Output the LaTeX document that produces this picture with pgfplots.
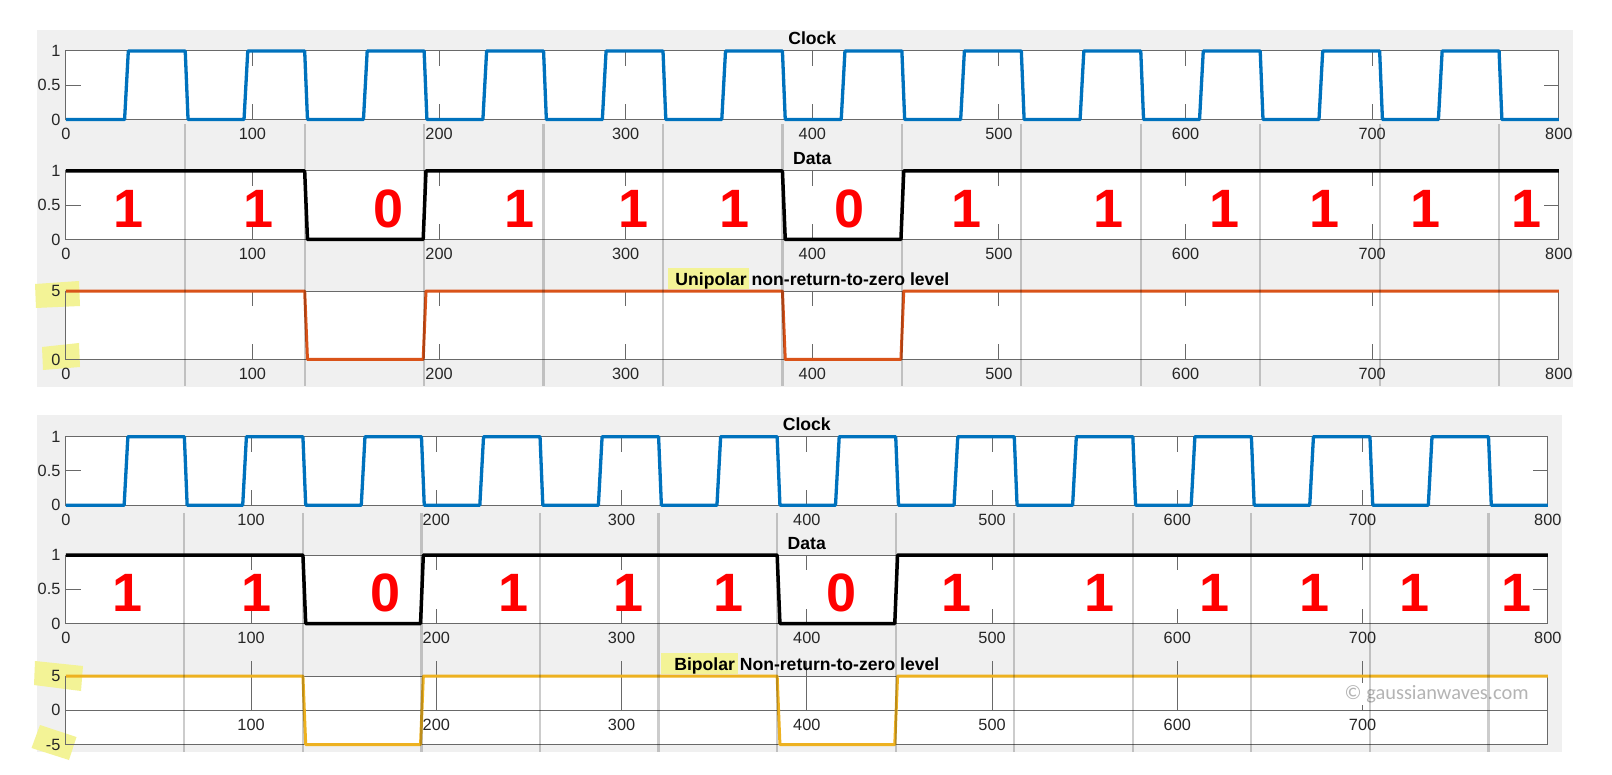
\documentclass[border=0pt]{standalone}
\usepackage{fontspec}
\setmainfont{Liberation Sans}
\newfontfamily\wmfont{Carlito}
\usepackage{pgfplots}
\pgfplotsset{compat=1.18}
\definecolor{mblue}{RGB}{0,114,189}
\definecolor{morange}{RGB}{217,83,25}
\definecolor{myellow}{RGB}{237,177,32}
\definecolor{figbg}{RGB}{240,240,240}
\definecolor{axgray}{RGB}{105,105,105}
\definecolor{txt}{RGB}{38,38,38}
\definecolor{hl}{RGB}{243,243,150}
\definecolor{dred}{RGB}{255,0,0}
\definecolor{wm}{RGB}{180,180,180}

\pgfplotsset{
  sig/.style={
    scale only axis, height=34.25pt,
    xmin=0, xmax=800, anchor=north west,
    clip=false,
    tick align=inside, major tick length=7.5pt,
    xtick={0,100,...,800},
    tick pos=both,
    axis line style={axgray,line width=0.5pt},
    tick style={axgray,line width=0.5pt},
    /pgf/number format/assume math mode=true,
    tick label style={font=\fontsize{8.15}{9}\selectfont, text=txt, inner sep=0pt},
    xticklabel style={yshift=-4.2pt},
    yticklabel style={xshift=-2.5pt},
    every axis plot/.append style={line join=round},
  },
  topax/.style={sig, width=746.5pt},
  botax/.style={sig, width=741pt},
}
\newcommand{\ttl}[1]{\node[anchor=base, inner sep=0pt, font=\fontsize{8.8}{10}\selectfont\bfseries, text=black] at ([yshift=3pt]rel axis cs:0.5,1) {#1};}
\newcommand{\bit}[2]{\node[font=\fontsize{27}{27}\selectfont\bfseries, text=dred, inner sep=0pt] at (axis cs:#1,0.44) {#2};}
\newcommand{\hlA}[1]{\hspace*{-3.8pt}{\setlength{\fboxsep}{0pt}\colorbox{hl}{\hspace{3.8pt}\rule[-2pt]{0pt}{10.3pt}#1\hspace{1pt}}}\hspace*{-1pt}}
\newcommand{\hlB}[1]{\hspace*{-6.5pt}{\setlength{\fboxsep}{0pt}\colorbox{hl}{\hspace{6.5pt}\rule[-1.65pt]{0pt}{10.3pt}#1\hspace{1.5pt}}}\hspace*{-1.5pt}}

\begin{document}
\begin{tikzpicture}
\fill[white] (0,0) rectangle (806pt,-387.5pt);
\useasboundingbox (0,0) rectangle (806pt,-387.5pt);
\begin{scope}[x=0.5pt,y=-0.5pt]
  \fill[figbg] (37,30) rectangle (1573,386.5);
  \fill[figbg] (37,415) rectangle (1562,752);
  \fill[white] (65.8,51) rectangle (1558.8,119.5);
  \fill[white] (65.8,171) rectangle (1558.8,239.5);
  \fill[white] (65.8,291) rectangle (1558.8,359.5);
  \fill[white] (65.8,436.7) rectangle (1547.8,505.2);
  \fill[white] (65.8,555) rectangle (1547.8,623.5);
  \fill[white] (65.8,676) rectangle (1547.8,744.5);
  % highlighter marks on tick labels
  \fill[hl] (35,284) -- (79,281) -- (80,306) -- (36,308) -- cycle;
  \fill[hl] (42,347) -- (79,343) -- (80,367) -- (43,370) -- cycle;
  \fill[hl] (35,661) -- (83,666) -- (81,691) -- (34,685) -- cycle;
  \fill[hl] (40,725) -- (76.5,737) -- (69,760) -- (31.5,748) -- cycle;
\end{scope}

% ---------------- top panel ----------------
\begin{axis}[topax, at={(32.9pt,-25.5pt)}, ymin=0, ymax=1, ytick={0,0.5,1}]
  \addplot[mblue, line width=1.65pt] coordinates {
    (0,0) (31.5,0) (33.5,1) (64,1) (65.5,0)
    (95.5,0) (97.5,1) (128,1) (129.5,0)
    (159.5,0) (161.5,1) (192,1) (193.5,0)
    (223.5,0) (225.5,1) (256,1) (257.5,0)
    (287.5,0) (289.5,1) (320,1) (321.5,0)
    (351.5,0) (353.5,1) (384,1) (385.5,0)
    (415.5,0) (417.5,1) (448,1) (449.5,0)
    (479.5,0) (481.5,1) (512,1) (513.5,0)
    (543.5,0) (545.5,1) (576,1) (577.5,0)
    (607.5,0) (609.5,1) (640,1) (641.5,0)
    (671.5,0) (673.5,1) (704,1) (705.5,0)
    (735.5,0) (737.5,1) (768,1) (769.5,0)
    (800,0)};
  \ttl{Clock}
\end{axis}

\begin{axis}[topax, at={(32.9pt,-85.5pt)}, ymin=0, ymax=1, ytick={0,0.5,1}]
  \addplot[black, line width=1.75pt] coordinates {
    (0,1) (128,1) (129.5,0) (191.5,0) (193,1) (384,1) (385.5,0) (447.5,0) (449,1) (800,1)};
  \ttl{Data}
  \bit{33.4}{1}\bit{103.3}{1}\bit{173}{0}\bit{242.9}{1}\bit{304}{1}\bit{358.5}{1}\bit{420}{0}
  \bit{482.7}{1}\bit{558.6}{1}\bit{620.8}{1}\bit{674.5}{1}\bit{728.7}{1}\bit{782.8}{1}
\end{axis}

\begin{axis}[topax, at={(32.9pt,-145.5pt)}, ymin=0, ymax=5, ytick={0,5}]
  \addplot[morange, line width=1.5pt] coordinates {
    (0,5) (128,5) (129.5,0) (191.5,0) (193,5) (384,5) (385.5,0) (447.5,0) (449,5) (800,5)};
  \ttl{\hlA{Unipolar} non-return-to-zero level}
  \pgfplotsinvokeforeach{64,128,...,768}{
    \draw[black, opacity=0.2, line width=1.1pt] (axis cs:#1,17.2) -- (axis cs:#1,-1.97);
  }
\end{axis}

% ---------------- bottom panel ----------------
\begin{axis}[botax, at={(32.9pt,-218.35pt)}, ymin=0, ymax=1, ytick={0,0.5,1}]
  \addplot[mblue, line width=1.65pt] coordinates {
    (0,0) (31.5,0) (33.5,1) (64,1) (65.5,0)
    (95.5,0) (97.5,1) (128,1) (129.5,0)
    (159.5,0) (161.5,1) (192,1) (193.5,0)
    (223.5,0) (225.5,1) (256,1) (257.5,0)
    (287.5,0) (289.5,1) (320,1) (321.5,0)
    (351.5,0) (353.5,1) (384,1) (385.5,0)
    (415.5,0) (417.5,1) (448,1) (449.5,0)
    (479.5,0) (481.5,1) (512,1) (513.5,0)
    (543.5,0) (545.5,1) (576,1) (577.5,0)
    (607.5,0) (609.5,1) (640,1) (641.5,0)
    (671.5,0) (673.5,1) (704,1) (705.5,0)
    (735.5,0) (737.5,1) (768,1) (769.5,0)
    (800,0)};
  \ttl{Clock}
\end{axis}

\begin{axis}[botax, at={(32.9pt,-277.5pt)}, ymin=0, ymax=1, ytick={0,0.5,1}]
  \addplot[black, line width=1.75pt] coordinates {
    (0,1) (128,1) (129.5,0) (191.5,0) (193,1) (384,1) (385.5,0) (447.5,0) (449,1) (800,1)};
  \ttl{Data}
  \bit{33.3}{1}\bit{102.9}{1}\bit{172.8}{0}\bit{241.8}{1}\bit{304}{1}\bit{357.5}{1}\bit{418.5}{0}
  \bit{480.7}{1}\bit{558.2}{1}\bit{619.9}{1}\bit{674.1}{1}\bit{728.3}{1}\bit{783}{1}
\end{axis}

\begin{axis}[botax, at={(32.9pt,-338pt)}, ymin=-5, ymax=5, ytick={-5,0,5}, xtick=\empty, ytick pos=left]
  \draw[axgray, line width=0.5pt] (axis cs:0,0) -- (axis cs:800,0);
  \pgfplotsinvokeforeach{100,200,...,700}{
    \draw[axgray, line width=0.5pt] (axis cs:#1,0) -- ++(0,7.5pt);
    \node[anchor=north, inner sep=0pt, font=\fontsize{8.15}{9}\selectfont, text=txt] at ([yshift=-4.2pt]axis cs:#1,0) {#1};
  }
  \addplot[myellow, line width=1.5pt] coordinates {
    (0,5) (128,5) (129.5,-5) (191.5,-5) (193,5) (384,5) (385.5,-5) (447.5,-5) (449,5) (800,5)};
  \ttl{\hlB{Bipolar} Non-return-to-zero level}
  \node[fill=white, inner sep=1pt, text=wm, font=\wmfont\fontsize{10.2}{12}\selectfont] at (axis cs:740,2.4) {© gaussianwaves.com};
  \pgfplotsinvokeforeach{64,128,...,768}{
    \draw[black, opacity=0.2, line width=1.1pt] (axis cs:#1,28.8) -- (axis cs:#1,-6.1);
  }
\end{axis}
\end{tikzpicture}
\end{document}
